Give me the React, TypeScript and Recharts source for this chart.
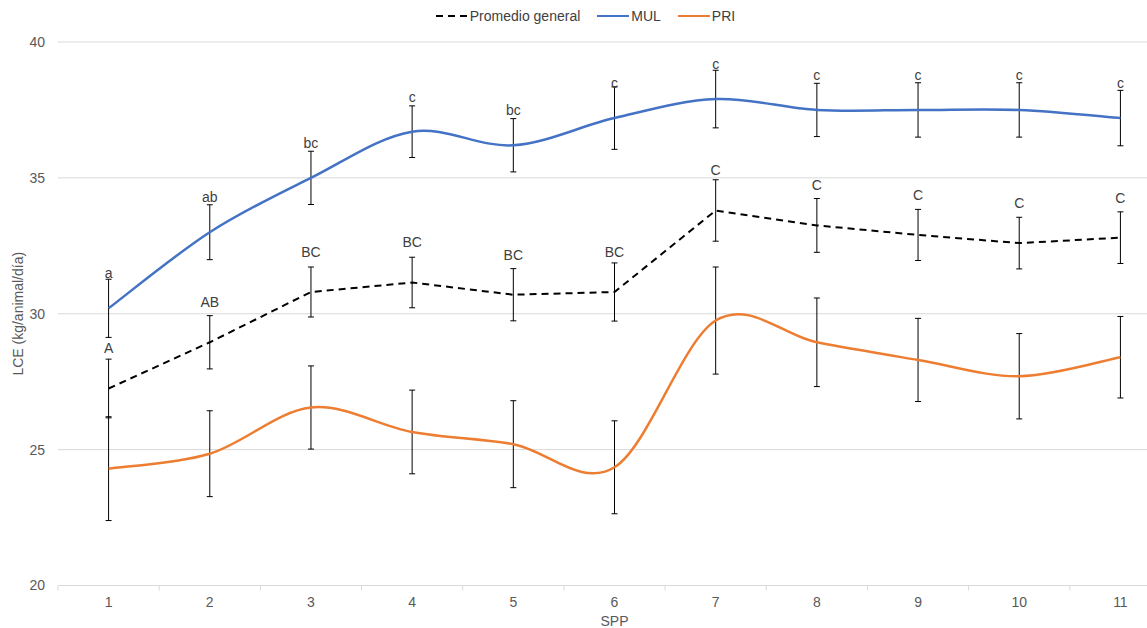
import { LineChart, Line, XAxis, YAxis, CartesianGrid, ErrorBar, LabelList, Legend } from 'recharts';

const categories = ['1', '2', '3', '4', '5', '6', '7', '8', '9', '10', '11'];

const promedio = [27.25, 28.95, 30.8, 31.15, 30.7, 30.8, 33.8, 33.25, 32.9, 32.6, 32.8];
const promedioErr = [1.08, 0.98, 0.92, 0.93, 0.96, 1.07, 1.13, 0.99, 0.94, 0.95, 0.95];
const promedioLetters = ['A', 'AB', 'BC', 'BC', 'BC', 'BC', 'C', 'C', 'C', 'C', 'C'];

const mul = [30.2, 33.0, 35.0, 36.7, 36.2, 37.2, 37.9, 37.5, 37.5, 37.5, 37.2];
const mulErr = [1.07, 1.01, 0.98, 0.95, 0.98, 1.15, 1.06, 0.98, 1.0, 1.0, 1.02];
const mulLetters = ['a', 'ab', 'bc', 'c', 'bc', 'c', 'c', 'c', 'c', 'c', 'c'];

const pri = [24.3, 24.85, 26.55, 25.65, 25.2, 24.35, 29.75, 28.95, 28.3, 27.7, 28.4];
const priErr = [1.91, 1.58, 1.53, 1.54, 1.6, 1.71, 1.97, 1.63, 1.53, 1.57, 1.5];

const yTicks = [20, 25, 30, 35, 40];
const legendOrder = ['promedio', 'mul', 'pri'];

const data = categories.map((spp, i) => ({
  spp,
  promedio: promedio[i],
  promedioErr: promedioErr[i],
  promedioLetter: promedioLetters[i],
  mul: mul[i],
  mulErr: mulErr[i],
  mulLetter: mulLetters[i],
  pri: pri[i],
  priErr: priErr[i],
}));

// excel-like smoothing (catmull-rom style bezier)
function excelSmooth(context: any) {
  let pts: number[][] = [];
  return {
    areaStart() {},
    areaEnd() {},
    lineStart() {
      pts = [];
    },
    point(x: number, y: number) {
      pts.push([+x, +y]);
    },
    lineEnd() {
      if (!pts.length) return;
      context.moveTo(pts[0][0], pts[0][1]);
      for (let i = 0; i < pts.length - 1; i++) {
        const p0 = pts[i - 1] || pts[i];
        const p1 = pts[i];
        const p2 = pts[i + 1];
        const p3 = pts[i + 2] || p2;
        context.bezierCurveTo(
          p1[0] + (p2[0] - p0[0]) / 6,
          p1[1] + (p2[1] - p0[1]) / 6,
          p2[0] - (p3[0] - p1[0]) / 6,
          p2[1] - (p3[1] - p1[1]) / 6,
          p2[0],
          p2[1]
        );
      }
    },
  };
}

function SppTick(props: any) {
  const { x, y, payload, index, visibleTicksCount } = props;
  const half = payload?.offset ?? 0;
  const axisY = y - 10;
  return (
    <g>
      <line x1={x - half} x2={x - half} y1={axisY} y2={axisY + 5} stroke="#d9d9d9" />
      {index === visibleTicksCount - 1 && (
        <line x1={x + half} x2={x + half} y1={axisY} y2={axisY + 5} stroke="#d9d9d9" />
      )}
      <text x={x} y={y} dy={11} textAnchor="middle" fill="#595959" fontSize={14}>
        {payload.value}
      </text>
    </g>
  );
}

function LegendContent({ payload }: any) {
  const items = [...(payload || [])].sort(
    (a: any, b: any) => legendOrder.indexOf(a.dataKey) - legendOrder.indexOf(b.dataKey)
  );
  return (
    <div style={{ display: 'flex', justifyContent: 'center', alignItems: 'center', gap: 17, height: 24, fontSize: 14, color: '#404040' }}>
      {items.map((entry: any) => (
        <div key={entry.value} style={{ display: 'flex', alignItems: 'center' }}>
          <svg width={32} height={4}>
            <line x1={0} y1={2} x2={32} y2={2} stroke={entry.color} strokeWidth={2} strokeDasharray={entry.payload?.strokeDasharray} />
          </svg>
          <span style={{ marginLeft: 2 }}>{entry.value}</span>
        </div>
      ))}
    </div>
  );
}

export default function App() {
  return (
    <div
      style={{
        position: 'fixed',
        left: 0,
        top: 0,
        width: 1147,
        height: 628,
        overflow: 'hidden',
        background: '#fff',
        fontFamily: '"Liberation Sans", Arial, sans-serif',
      }}
    >
      <LineChart width={1175} height={628} data={data} margin={{ top: 18, right: 4, left: 0, bottom: 0 }}>
        <CartesianGrid vertical={false} stroke="#d9d9d9" />
        <XAxis
          dataKey="spp"
          scale="band"
          height={42.5}
          tickLine={false}
          tickSize={6}
          tickMargin={4}
          axisLine={{ stroke: '#d9d9d9' }}
          tick={<SppTick />}
          interval={0}
          label={{ value: 'SPP', position: 'insideBottom', offset: 2, fill: '#595959', fontSize: 14 }}
        />
        <YAxis
          width={58}
          domain={[20, 40]}
          ticks={yTicks}
          tickLine={false}
          axisLine={false}
          tickMargin={7}
          tick={{ fontSize: 14, fill: '#595959' }}
          label={{
            value: 'LCE (kg/animal/día)',
            content: (p: any) => {
              const vb = p.viewBox || { x: 0, y: 0, height: 0 };
              const cx = vb.x + 18;
              const cy = vb.y + vb.height / 2;
              return (
                <text x={cx} y={cy} transform={`rotate(-90 ${cx} ${cy})`} textAnchor="middle" dominantBaseline="central" fill="#595959" fontSize={14}>
                  LCE (kg/animal/día)
                </text>
              );
            },
          }}
        />
        <Legend verticalAlign="top" content={<LegendContent />} wrapperStyle={{ top: 4 }} />
        <Line
          name="Promedio general"
          dataKey="promedio"
          stroke="#000000"
          strokeWidth={2}
          strokeDasharray="7 5"
          type="linear"
          dot={false}
          activeDot={false}
          isAnimationActive={false}
        >
          <ErrorBar dataKey="promedioErr" width={3} stroke="#000" strokeWidth={1} />
          <LabelList dataKey="promedioLetter" position="top" offset={35} fill="#404040" fontSize={14} />
        </Line>
        <Line
          name="MUL"
          dataKey="mul"
          stroke="#4472C4"
          strokeWidth={2.5}
          type={excelSmooth as any}
          dot={false}
          activeDot={false}
          isAnimationActive={false}
        >
          <ErrorBar dataKey="mulErr" width={3} stroke="#000" strokeWidth={1} />
          <LabelList dataKey="mulLetter" position="top" offset={30} fill="#404040" fontSize={14} />
        </Line>
        <Line
          name="PRI"
          dataKey="pri"
          stroke="#ED7D31"
          strokeWidth={2.5}
          type={excelSmooth as any}
          dot={false}
          activeDot={false}
          isAnimationActive={false}
        >
          <ErrorBar dataKey="priErr" width={3} stroke="#000" strokeWidth={1} />
        </Line>
      </LineChart>
    </div>
  );
}
